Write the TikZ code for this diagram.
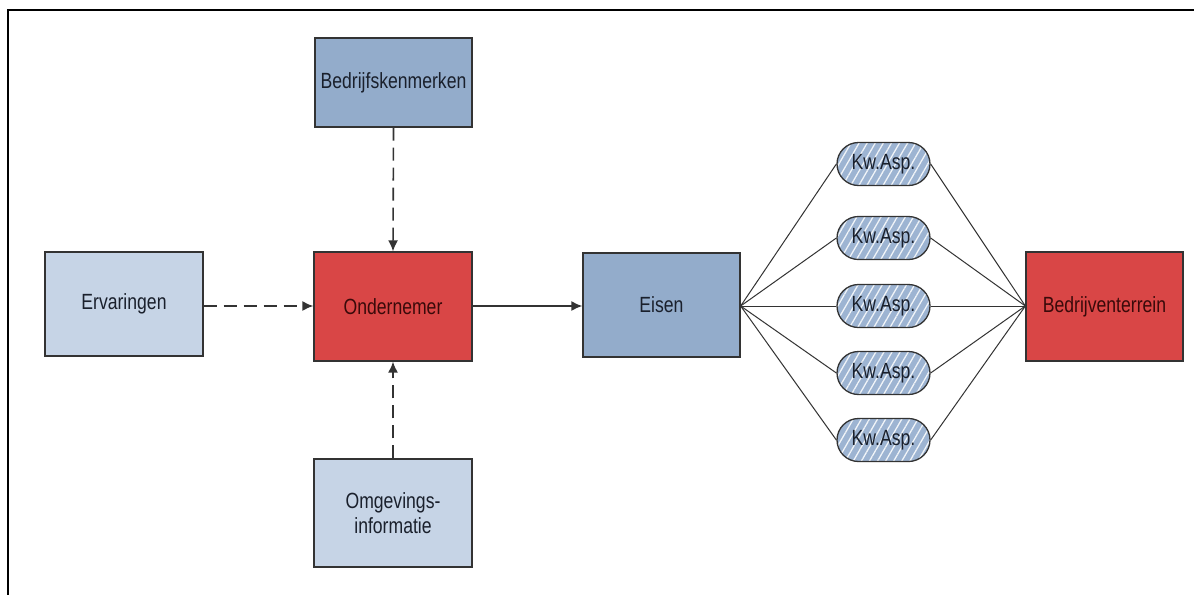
\documentclass[tikz,border=0pt]{standalone}
\usepackage{fontspec}
\setmainfont{Liberation Sans}
\newfontfamily\narrowsans[FakeStretch=0.8]{Liberation Sans}
\usetikzlibrary{arrows.meta,shapes.misc,patterns.meta}
\definecolor{darkblue}{HTML}{93ACCB}
\definecolor{lightblue}{HTML}{C6D4E6}
\definecolor{boxred}{HTML}{D94646}
\definecolor{pillblue}{HTML}{9DB4D2}
\definecolor{edgegray}{HTML}{333333}
\definecolor{redtext}{HTML}{3A0A0A}
\definecolor{bluetext}{HTML}{1A202C}
\tikzset{
  box/.style={rectangle, draw=edgegray, line width=1.3pt, minimum width=157pt, minimum height=106pt,
    inner sep=2pt, align=center, font=\narrowsans\fontsize{22}{25}\selectfont, text=bluetext},
  redbox/.style={box, fill=boxred, text=redtext},
  bluebox/.style={box, fill=darkblue},
  lightbox/.style={box, fill=lightblue},
  pill/.style={rounded rectangle, draw=edgegray, line width=1.3pt, minimum width=95pt, minimum height=43pt,
    inner sep=1pt, font=\narrowsans\fontsize{22}{25}\selectfont, text=bluetext,
    preaction={fill=pillblue},
    pattern={Lines[angle=60,distance=7pt,line width=1.3pt]}, pattern color=white!85!pillblue},
  dasharrow/.style={draw=edgegray, line width=1.6pt, dash pattern=on 13pt off 7pt, -{Latex[length=11pt,width=10pt]}},
  solidarrow/.style={draw=edgegray, line width=1.6pt, -{Latex[length=11pt,width=10pt]}},
  link/.style={draw=edgegray, line width=1pt},
}
\begin{document}
\begin{tikzpicture}[x=1pt,y=-1pt]
\useasboundingbox (0,0) rectangle (1194,595);
\fill[white] (0,0) rectangle (1194,595);
\draw[line width=2.5pt, black] (1194,10) -- (8,10) -- (8,595);

\node[bluebox, minimum height=89pt] (bk) at (393.5,82.5) {Bedrijfskenmerken};
\node[lightbox, minimum width=158pt, minimum height=104pt] (erv) at (124,304) {Ervaringen};
\node[redbox, minimum width=158pt, minimum height=109pt] (ond) at (393,306.5) {Ondernemer};
\node[bluebox, minimum height=104pt] (eis) at (661.5,305) {Eisen};
\node[redbox, minimum height=109pt] (bt) at (1104.5,306.5) {Bedrijventerrein};
\node[lightbox, minimum width=158pt, minimum height=108pt] (omg) at (393,513) {Omgevings-\\informatie};

\node[pill] (k1) at (883.5,164) {Kw.Asp.};
\node[pill] (k2) at (883.5,238) {Kw.Asp.};
\node[pill] (k3) at (883.5,306) {Kw.Asp.};
\node[pill] (k4) at (883.5,373) {Kw.Asp.};
\node[pill] (k5) at (883.5,440) {Kw.Asp.};

\draw[dasharrow] (erv.east |- 0,306) coordinate (e1) -- (ond.west |- e1);
\draw[dasharrow] (bk.south) -- (ond.north);
\draw[dasharrow] (omg.north) -- (ond.south);
\draw[solidarrow] (ond.east |- 0,306) coordinate (o1) -- (eis.west |- o1);

\coordinate (eo) at (eis.east |- 0,306);
\coordinate (bi) at (bt.west |- 0,306);
\foreach \k in {k1,k2,k3,k4,k5}{
  \draw[link] (eo) -- (\k.west);
  \draw[link] (\k.east) -- (bi);
}
\end{tikzpicture}
\end{document}
